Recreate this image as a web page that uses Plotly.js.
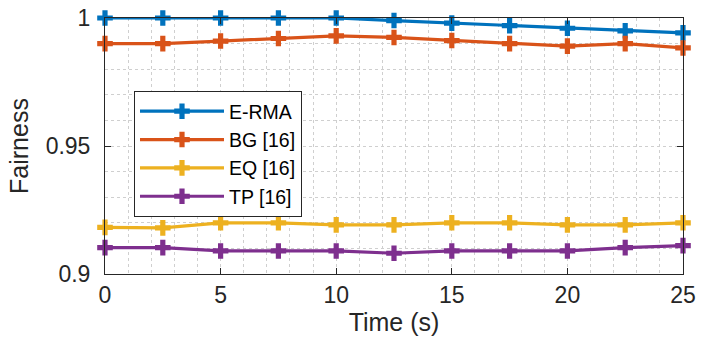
<!DOCTYPE html>
<html>
<head>
<meta charset="utf-8">
<script src="https://cdn.plot.ly/plotly-3.0.1.min.js"></script>
<style>html,body{margin:0;padding:0;background:#fff;}#chart{width:713px;height:341px;}</style>
</head>
<body>
<div id="chart"></div>
<script>
const timeS = [0, 2.5, 5, 7.5, 10, 12.5, 15, 17.5, 20, 22.5, 25];
const ermaVals = [1.000, 1.000, 1.000, 1.000, 1.000, 0.999, 0.998, 0.997, 0.996, 0.995, 0.9942];
const bgVals   = [0.990, 0.990, 0.991, 0.992, 0.993, 0.9924, 0.9912, 0.990, 0.989, 0.990, 0.9883];
const eqVals   = [0.9182, 0.918, 0.920, 0.920, 0.9192, 0.9192, 0.920, 0.920, 0.9192, 0.9192, 0.920];
const tpVals   = [0.9103, 0.9103, 0.909, 0.909, 0.909, 0.9081, 0.909, 0.909, 0.909, 0.9103, 0.9111];
const seriesNames = ['E-RMA', 'BG [16]', 'EQ [16]', 'TP [16]'];
const seriesColors = ['#0072BD', '#D95319', '#EDB120', '#7E2F8E'];
const xTicks = [0, 5, 10, 15, 20, 25];
const yTicks = [0.9, 0.95, 1];
const yTickText = ['0.9', '0.95', '1'];

const FONT = 'Liberation Sans, Arial, Helvetica, sans-serif';
const allVals = [ermaVals, bgVals, eqVals, tpVals];
const traces = allVals.map((v, i) => ({
  x: timeS, y: v, name: seriesNames[i], type: 'scatter', mode: 'lines+markers',
  line: {color: seriesColors[i], width: 3.2},
  marker: {symbol: 'cross', size: 13, color: seriesColors[i]},
  cliponaxis: false
}));

const axisCommon = {
  showline: true, linecolor: '#262626', linewidth: 1, mirror: 'ticks',
  ticks: 'inside', ticklen: 6, tickcolor: '#262626', tickwidth: 1,
  showgrid: true, gridcolor: '#cfcfcf', griddash: 'dot', gridwidth: 1,
  zeroline: false,
  tickfont: {family: FONT, size: 23, color: '#262626'}
};

const layout = {
  width: 713, height: 341,
  margin: {l: 105, r: 30, t: 18, b: 67},
  paper_bgcolor: '#fff', plot_bgcolor: '#fff',
  showlegend: true,
  xaxis: Object.assign({}, axisCommon, {
    range: [0, 25], tickvals: xTicks, ticklabelstandoff: 0,
    minor: {dtick: 1, showgrid: true, gridcolor: '#cfcfcf', griddash: 'dot', gridwidth: 1},
    title: {text: 'Time (s)', font: {family: FONT, size: 25, color: '#262626'}, standoff: 0}
  }),
  yaxis: Object.assign({}, axisCommon, {
    range: [0.9, 1], tickvals: yTicks, ticktext: yTickText, ticklabelstandoff: 9,
    minor: {dtick: 0.01, tick0: 0.9, showgrid: true, gridcolor: '#cfcfcf', griddash: 'dot', gridwidth: 1},
    title: {text: 'Fairness', font: {family: FONT, size: 25, color: '#262626'}, standoff: 9}
  }),
  legend: {
    x: (134 - 105) / 578, y: (274 - 91) / 256, xanchor: 'left', yanchor: 'top',
    bgcolor: '#fff', bordercolor: '#262626', borderwidth: 1,
    font: {family: FONT, size: 19.5, color: '#000'},
    itemwidth: 84, tracegroupgap: 0, entrywidth: 90, entrywidthmode: 'pixels'
  }
};

Plotly.newPlot('chart', traces, layout, {displayModeBar: false, staticPlot: true});
</script>
</body>
</html>
